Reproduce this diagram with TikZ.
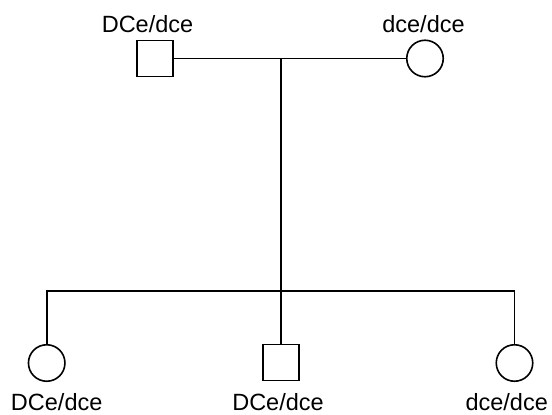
\documentclass[tikz,border=0pt]{standalone}
\usepackage{fontspec}
\setmainfont{Liberation Sans}
\begin{document}
\begin{tikzpicture}[x=1pt,y=-1pt,
  line width=1.6pt,
  male/.style={draw,rectangle,minimum size=36pt,inner sep=0pt},
  female/.style={draw,circle,minimum size=36.5pt,inner sep=0pt},
  lbl/.style={anchor=base,inner sep=0pt,font=\fontsize{23.5}{26}\selectfont}]
\useasboundingbox (0,0) rectangle (552,415);
\node[male] (f) at (155,58.5) {};
\node[female] (m) at (425,58.5) {};
\node[lbl] (lf) at (147.5,32) {DCe/dce};
\node[lbl] (lm) at (423.5,32) {dce/dce};
\coordinate (mid) at (281,58.5);
\coordinate (sib) at (281,291);
\node[female] (c1) at (46.7,363) {};
\node[male] (c2) at (281,362.3) {};
\node[female] (c3) at (514.5,363) {};
\node[lbl] (l1) at (56.7,410) {DCe/dce};
\node[lbl] (l2) at (278,410) {DCe/dce};
\node[lbl] (l3) at (506.7,410) {dce/dce};
\draw (f.east) -- (m.west);
\draw (mid) -- (sib);
\draw (c1.north) |- (sib) -| (c3.north);
\draw (sib) -- (c2.north);
\end{tikzpicture}
\end{document}
